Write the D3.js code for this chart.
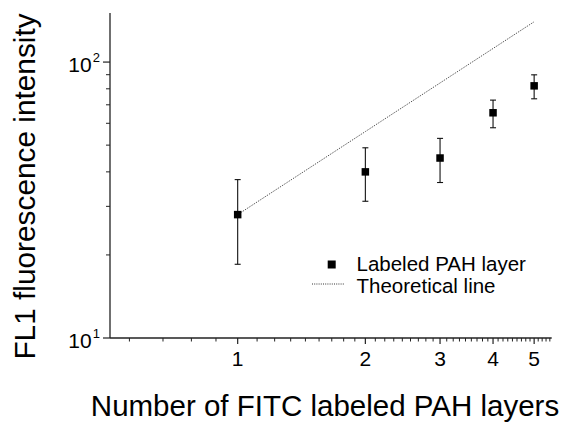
<!DOCTYPE html>
<html>
<head>
<meta charset="utf-8">
<script src="https://cdn.jsdelivr.net/npm/d3@7"></script>
<style>
  html, body { margin: 0; padding: 0; background: #fff; }
  svg { display: block; font-family: "Liberation Sans", Arial, sans-serif; }
</style>
</head>
<body>
<svg id="chart" width="572" height="433"></svg>
<script>
// ---- data ----
const layers = [1, 2, 3, 4, 5];
const intensity = [28.0, 40.0, 44.9, 65.5, 82.0];
const errLow = [18.5, 31.3, 36.6, 57.8, 73.6];
const errHigh = [37.5, 48.9, 52.9, 72.8, 89.9];
const theoLayers = [1, 2, 3, 4, 5];
const theoretical = [28, 56, 84, 112, 140];
const xTickValues = [1, 2, 3, 4, 5];
const yTickExponents = [1, 2];
const yMinorTicks = [20, 30, 40, 50, 60, 70, 80, 90];
const legendLabels = ["Labeled PAH layer", "Theoretical line"];

// ---- layout ----
const svg = d3.select("#chart");
const x = d3.scaleLog().domain([0.5, 5.5]).range([110, 551.7]);
const y = d3.scaleLog().domain([10, 150.6]).range([338, 13]);
const axisColor = "#222";

// minor x ticks (Origin-style step of 1/9)
const xMinor = d3.range(-4, 41).map(k => 1 + k / 9)
  .filter(v => v > 0.5 && v < 5.5 && Math.abs(v - Math.round(v)) > 1e-6);

const gx = svg.append("g").attr("transform", "translate(0,338)");
gx.append("line").attr("x1", x.range()[0]).attr("x2", x.range()[1])
  .attr("y1", 0).attr("y2", 0).attr("stroke", axisColor).attr("stroke-width", 1.3);
gx.selectAll("line.minor").data(xMinor).join("line").attr("class", "minor")
  .attr("x1", d => x(d)).attr("x2", d => x(d)).attr("y1", 0).attr("y2", 3.5)
  .attr("stroke", axisColor).attr("stroke-width", 1);
gx.selectAll("line.major").data(xTickValues).join("line").attr("class", "major")
  .attr("x1", d => x(d)).attr("x2", d => x(d)).attr("y1", 0).attr("y2", 6)
  .attr("stroke", axisColor).attr("stroke-width", 1.2);
gx.selectAll("text").data(xTickValues).join("text")
  .attr("x", d => x(d)).attr("y", 27.5).attr("text-anchor", "middle")
  .attr("font-size", 21).attr("fill", "#000").text(d => d);

const gy = svg.append("g").attr("transform", "translate(110,0)");
gy.append("line").attr("x1", 0).attr("x2", 0)
  .attr("y1", y.range()[0]).attr("y2", y.range()[1])
  .attr("stroke", axisColor).attr("stroke-width", 1.3);
gy.selectAll("line.minor").data(yMinorTicks).join("line").attr("class", "minor")
  .attr("x1", -4).attr("x2", 0).attr("y1", d => y(d)).attr("y2", d => y(d))
  .attr("stroke", axisColor).attr("stroke-width", 1);
gy.selectAll("line.major").data(yTickExponents).join("line").attr("class", "major")
  .attr("x1", -7).attr("x2", 0).attr("y1", d => y(Math.pow(10, d))).attr("y2", d => y(Math.pow(10, d)))
  .attr("stroke", axisColor).attr("stroke-width", 1.2);
const yl = gy.selectAll("text").data(yTickExponents).join("text")
  .attr("x", -41.7).attr("y", d => y(Math.pow(10, d)) + 9.5)
  .attr("font-size", 21).attr("fill", "#000");
yl.append("tspan").text("10");
yl.append("tspan").attr("dy", -10).attr("dx", 1).attr("font-size", 13).text(d => d);

// ---- theoretical line ----
const line = d3.line().x(d => x(d[0])).y(d => y(d[1]));
svg.append("path")
  .datum(theoLayers.map((l, i) => [l, theoretical[i]]))
  .attr("d", line).attr("fill", "none")
  .attr("stroke", "#333").attr("stroke-width", 1).attr("stroke-dasharray", "1,1.2");

// ---- error bars ----
const eb = svg.append("g").attr("stroke", "#111").attr("stroke-width", 1.1);
layers.forEach((l, i) => {
  const cx = x(l);
  eb.append("line").attr("x1", cx).attr("x2", cx).attr("y1", y(errLow[i])).attr("y2", y(errHigh[i]));
  eb.append("line").attr("x1", cx - 3).attr("x2", cx + 3).attr("y1", y(errLow[i])).attr("y2", y(errLow[i]));
  eb.append("line").attr("x1", cx - 3).attr("x2", cx + 3).attr("y1", y(errHigh[i])).attr("y2", y(errHigh[i]));
});

// ---- points ----
const sq = 7.5;
svg.selectAll("rect.pt").data(layers).join("rect").attr("class", "pt")
  .attr("x", d => x(d) - sq / 2).attr("y", (d, i) => y(intensity[i]) - sq / 2)
  .attr("width", sq).attr("height", sq).attr("fill", "#000");

// ---- legend ----
const lg = svg.append("g");
lg.append("rect").attr("x", 331.7 - 4).attr("y", 264.5 - 4).attr("width", 8).attr("height", 8).attr("fill", "#000");
lg.append("line").attr("x1", 312).attr("x2", 345).attr("y1", 284).attr("y2", 284)
  .attr("stroke", "#333").attr("stroke-width", 1).attr("stroke-dasharray", "1,1.2");
lg.selectAll("text").data(legendLabels).join("text")
  .attr("x", 356.5).attr("y", (d, i) => 270.5 + i * 22)
  .attr("font-size", 20.5).attr("fill", "#000").text(d => d);

// ---- axis titles ----
svg.append("text").attr("x", 325).attr("y", 416).attr("text-anchor", "middle")
  .attr("font-size", 29.5).attr("fill", "#000").text("Number of FITC labeled PAH layers");
svg.append("text").attr("transform", "translate(35,186.5) rotate(-90)")
  .attr("text-anchor", "middle").attr("font-size", 29.8).attr("fill", "#000")
  .text("FL1 fluorescence intensity");
</script>
</body>
</html>
